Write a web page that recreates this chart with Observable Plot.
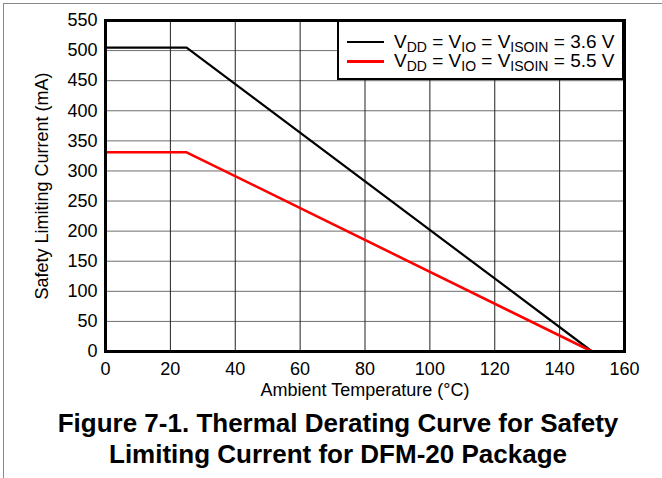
<!DOCTYPE html>
<html>
<head>
<meta charset="utf-8">
<script src="https://cdn.jsdelivr.net/npm/d3@7"></script>
<script src="https://cdn.jsdelivr.net/npm/@observablehq/plot@0.6"></script>
<style>
  html, body { margin: 0; padding: 0; background: #fff; }
  body { width: 662px; height: 478px; position: relative; overflow: hidden; font-family: "Liberation Sans", Arial, sans-serif; }
  #border { position: absolute; left: 3px; top: 3px; width: 700px; height: 500px; border-left: 1.5px solid #8a8a8a; border-top: 1.5px solid #8a8a8a; }
  #chart { position: absolute; left: 0; top: 0; }
  #legend { position: absolute; left: 337px; top: 20px; width: 283px; height: 56px; border: 2px solid #000; background: #fff; font-size: 19px; color: #000; }
  .row { position: absolute; left: 0; height: 20px; }
  .sw { position: absolute; left: 8px; width: 37px; height: 0; }
  .lt { position: absolute; left: 55px; white-space: nowrap; line-height: 19px; }
  .lt sub { font-size: 14px; vertical-align: -4px; line-height: 0; }
  #title { position: absolute; left: 0; width: 676px; top: 408px; text-align: center; font-weight: bold; font-size: 26px; line-height: 31px; color: #000; }
</style>
</head>
<body>
<div id="chart"></div>
<div id="border"></div>
<div id="legend"></div>
<div id="title">Figure 7-1. Thermal Derating Curve for Safety<br>Limiting Current for DFM-20 Package</div>
<script>
// Data
const temperature = [0, 25, 150];
const current36V = [505, 505, 0];
const current55V = [331, 331, 0];
const seriesNames = ["V<sub>DD</sub> = V<sub>IO</sub> = V<sub>ISOIN</sub> = 3.6 V", "V<sub>DD</sub> = V<sub>IO</sub> = V<sub>ISOIN</sub> = 5.5 V"];
const seriesColors = ["#000000", "#ff0000"];
const xTicks = [0, 20, 40, 60, 80, 100, 120, 140, 160];
const yTicks = [0, 50, 100, 150, 200, 250, 300, 350, 400, 450, 500, 550];

const rows = [];
temperature.forEach((t, i) => {
  rows.push({series: 0, t, i: current36V[i]});
  rows.push({series: 1, t, i: current55V[i]});
});

const chart = Plot.plot({
  width: 662,
  height: 400,
  marginLeft: 105,
  marginRight: 38,
  marginTop: 20,
  marginBottom: 49,
  style: {fontFamily: "'Liberation Sans', Arial, sans-serif", fontSize: "18px", color: "#000", background: "transparent"},
  x: {domain: [0, 160]},
  y: {domain: [0, 550]},
  marks: [
    Plot.gridY(yTicks, {stroke: "#6e6e6e", strokeOpacity: 1, strokeWidth: 1}),
    Plot.gridX(xTicks, {stroke: "#222", strokeOpacity: 1, strokeWidth: 1}),
    Plot.line(rows.filter(d => d.series === 0), {x: "t", y: "i", stroke: seriesColors[0], strokeWidth: 2.2}),
    Plot.line(rows.filter(d => d.series === 1), {x: "t", y: "i", stroke: seriesColors[1], strokeWidth: 2.6}),
    Plot.frame({stroke: "#000", strokeWidth: 3}),
    Plot.axisX(xTicks, {tickSize: 0, tickPadding: 11, fontSize: 18, label: "Ambient Temperature (°C)", labelAnchor: "center", labelArrow: "none", labelOffset: 44}),
    Plot.axisY(yTicks, {tickSize: 0, tickPadding: 8, fontSize: 18, label: "Safety Limiting Current (mA)", labelAnchor: "center", labelArrow: "none", labelOffset: 70})
  ]
});
document.getElementById("chart").appendChild(chart);

const legend = document.getElementById("legend");
seriesNames.forEach((name, k) => {
  const row = document.createElement("div");
  row.className = "row";
  row.style.top = (k === 0 ? 10 : 29) + "px";
  row.innerHTML = `<div class="sw" style="top:9px;border-top:${k === 0 ? 2.5 : 3}px solid ${seriesColors[k]}"></div><div class="lt">${name}</div>`;
  legend.appendChild(row);
});
</script>
</body>
</html>
